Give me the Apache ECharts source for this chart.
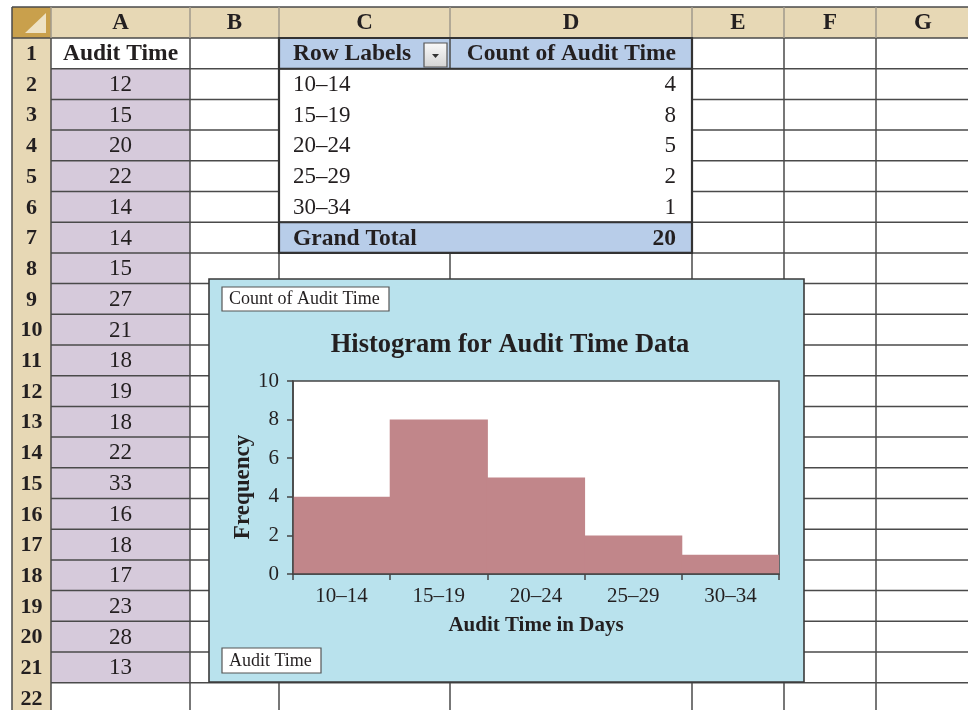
<!DOCTYPE html>
<html>
<head>
<meta charset="utf-8">
<script src="https://cdn.jsdelivr.net/npm/echarts@6/dist/echarts.min.js"></script>
<style>html,body{margin:0;padding:0;background:#fff;}#chart{width:968px;height:710px;}</style>
</head>
<body>
<div id="chart"></div>
<script>
// ---------- data ----------
const columnLetters = ['A', 'B', 'C', 'D', 'E', 'F', 'G'];
const rowNumbers = [1, 2, 3, 4, 5, 6, 7, 8, 9, 10, 11, 12, 13, 14, 15, 16, 17, 18, 19, 20, 21, 22];
const auditHeader = 'Audit Time';
const auditTimes = [12, 15, 20, 22, 14, 14, 15, 27, 21, 18, 19, 18, 22, 33, 16, 18, 17, 23, 28, 13];
const pivotHeaders = ['Row Labels', 'Count of Audit Time'];
const binLabels = ['10–14', '15–19', '20–24', '25–29', '30–34'];
const binCounts = [4, 8, 5, 2, 1];
const totalLabel = 'Grand Total';
const grandTotal = 20;
const chartTitle = 'Histogram for Audit Time Data';
const xAxisTitle = 'Audit Time in Days';
const yAxisTitle = 'Frequency';
const valueButton = 'Count of Audit Time';
const axisButton = 'Audit Time';
const yMin = 0, yMax = 10, yStep = 2;

// ---------- layout ----------
const SERIF = '"Liberation Serif", "Times New Roman", serif';
const colX = [12, 51, 190, 279, 450, 692, 784, 876, 970];
const headTop = 7, headBot = 38, rowH = 30.7;
const rowTop = k => headBot + (k - 1) * rowH;
const rowMid = k => rowTop(k) + rowH / 2 + 1;
const INK = '#231f20';
const LINE = '#4a4a4a';
const BAR = '#c1868a';

const els = [];
function rect(x, y, w, h, fill, stroke, lw, z) {
  els.push({type: 'rect', z: z || 1, silent: true, shape: {x, y, width: w, height: h},
    style: {fill: fill || 'none', stroke: stroke || null, lineWidth: lw || 0}});
}
function line(x1, y1, x2, y2, stroke, lw, z) {
  els.push({type: 'line', z: z || 2, silent: true, shape: {x1, y1, x2, y2},
    style: {stroke, lineWidth: lw}});
}
function text(str, x, y, size, bold, align, z) {
  els.push({type: 'text', z: z || 3, silent: true, x, y,
    style: {text: String(str), font: (bold ? 'bold ' : '') + size + 'px ' + SERIF, fill: INK,
      align: align || 'center', verticalAlign: 'middle', textAlign: align || 'center', textVerticalAlign: 'middle'}});
}

// backgrounds
rect(colX[1], headTop, 970 - colX[1], headBot - headTop, '#e7d8b5');
rect(colX[0], headBot, colX[1] - colX[0], 710 - headBot, '#e7d8b5');
rect(colX[0], headTop, colX[1] - colX[0], headBot - headTop, '#c9a04c');
els.push({type: 'polygon', z: 2, silent: true, shape: {points: [[25, 33], [46, 33], [46, 13]]}, style: {fill: '#eee2c4'}});
rect(colX[1], rowTop(2), colX[2] - colX[1], rowH * auditTimes.length, '#d6cadb');
rect(colX[3], rowTop(1), colX[5] - colX[3], rowH, '#b8cde9');
rect(colX[3], rowTop(7), colX[5] - colX[3], rowH, '#b8cde9');

// grid lines
line(colX[0], headTop, 970, headTop, LINE, 1.5);
line(colX[0], headTop, colX[0], 710, LINE, 1.5);
line(colX[0], headBot, 970, headBot, LINE, 1.5);
for (let i = 1; i < colX.length - 1; i++) {
  line(colX[i], headTop, colX[i], headBot, '#a09a8c', 1.5);
  if (colX[i] === 450) {
    line(colX[i], headBot, colX[i], rowTop(2), LINE, 1.5);
    line(colX[i], rowTop(8), colX[i], 710, LINE, 1.5);
  } else {
    line(colX[i], headBot, colX[i], 710, LINE, 1.5);
  }
}
for (let b = 1; b < rowNumbers.length; b++) {
  const y = rowTop(b + 1);
  if (b >= 2 && b <= 5) {
    line(colX[1], y, colX[3], y, LINE, 1.5);
    line(colX[5], y, 970, y, LINE, 1.5);
  } else {
    line(colX[1], y, 970, y, LINE, 1.5);
  }
}
// pivot outline
rect(colX[3], rowTop(1), colX[5] - colX[3], rowH * 7, null, '#333', 2.2, 2);
line(colX[3], rowTop(2), colX[5], rowTop(2), '#333', 2);
line(colX[3], rowTop(7), colX[5], rowTop(7), '#333', 2);

// header texts
columnLetters.forEach((c, i) => text(c, (colX[i + 1] + colX[i + 2]) / 2, 23, 23, true));
rowNumbers.forEach(n => text(n, (colX[0] + colX[1]) / 2, rowMid(n), 22, true));
text(auditHeader, (colX[1] + colX[2]) / 2, rowMid(1), 23.5, true);
auditTimes.forEach((v, i) => text(v, (colX[1] + colX[2]) / 2, rowMid(i + 2), 23));

// pivot texts
text(pivotHeaders[0], 293, rowMid(1), 23.5, true, 'left');
text(pivotHeaders[1], 676, rowMid(1), 23.5, true, 'right');
binLabels.forEach((b, i) => {
  text(b, 293, rowMid(i + 2), 23, false, 'left');
  text(binCounts[i], 676, rowMid(i + 2), 23, false, 'right');
});
text(totalLabel, 293, rowMid(7), 23.5, true, 'left');
text(grandTotal, 676, rowMid(7), 23.5, true, 'right');
// dropdown button
els.push({type: 'rect', z: 4, silent: true, shape: {x: 424, y: 43, width: 23, height: 24},
  style: {fill: new echarts.graphic.LinearGradient(0, 0, 0, 1, [{offset: 0, color: '#fafafa'}, {offset: 1, color: '#d4d4d4'}]), stroke: '#555', lineWidth: 1.2}});
els.push({type: 'polygon', z: 5, silent: true, shape: {points: [[432, 54], [439, 54], [435.5, 58]]}, style: {fill: '#333'}});

// chart box
rect(209, 279, 595, 403, '#b9e2ed', '#3a3a3a', 1.6, 10);
rect(222, 287, 167, 24, '#fff', '#555', 1.2, 11);
text(valueButton, 229, 299.5, 18, false, 'left', 12);
rect(222, 648, 99, 25, '#fff', '#555', 1.2, 11);
text(axisButton, 229, 661, 18, false, 'left', 12);

const chart = echarts.init(document.getElementById('chart'), null, {renderer: 'canvas'});
const axisText = {fontFamily: SERIF, fontSize: 21, color: INK};
chart.setOption({
  animation: false,
  backgroundColor: '#fff',
  graphic: {elements: els},
  title: {
    text: chartTitle, left: 505, top: 327, textAlign: 'center', z: 30,
    textStyle: {fontFamily: SERIF, fontWeight: 'bold', fontSize: 26.5, color: INK}
  },
  grid: {
    left: 293, top: 381, width: 486, height: 193, show: true, z: 25,
    backgroundColor: '#fff', borderColor: '#444', borderWidth: 1.5
  },
  xAxis: {
    type: 'category', data: binLabels, z: 30,
    axisLine: {lineStyle: {color: '#444', width: 1.5}},
    axisTick: {show: true, length: 6, alignWithLabel: false, lineStyle: {color: '#444', width: 1.5}},
    axisLabel: Object.assign({margin: 12, interval: 0}, axisText),
    name: xAxisTitle, nameLocation: 'middle', nameGap: 41, nameMoveOverlap: false,
    nameTextStyle: {fontFamily: SERIF, fontSize: 21, fontWeight: 'bold', color: INK}
  },
  yAxis: {
    type: 'value', min: yMin, max: yMax, interval: yStep, z: 30,
    axisLine: {show: true, lineStyle: {color: '#444', width: 1.5}},
    axisTick: {show: true, length: 6, lineStyle: {color: '#444', width: 1.5}},
    splitLine: {show: false},
    axisLabel: Object.assign({margin: 14}, axisText),
    name: yAxisTitle, nameLocation: 'middle', nameRotate: 90, nameGap: 38, nameMoveOverlap: false,
    nameTextStyle: {fontFamily: SERIF, fontSize: 23, fontWeight: 'bold', color: INK, padding: [0, 19, 0, 0]}
  },
  series: [{
    type: 'bar', data: binCounts, barWidth: '101%', z: 28,
    itemStyle: {color: BAR}
  }]
});
</script>
</body>
</html>
